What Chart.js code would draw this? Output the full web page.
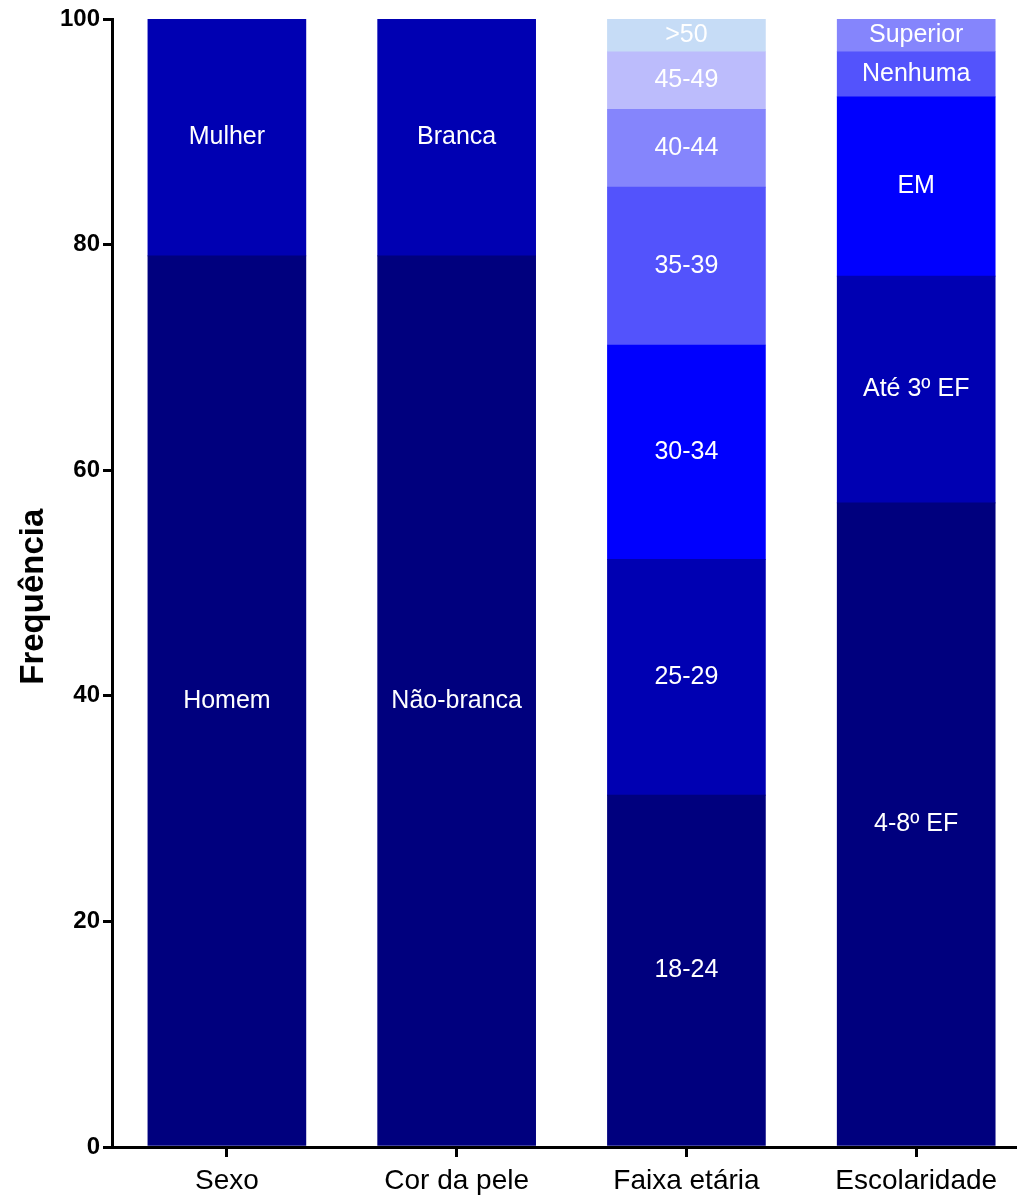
<!DOCTYPE html>
<html>
<head>
<meta charset="utf-8">
<script src="https://cdn.jsdelivr.net/npm/chart.js@4"></script>
<style>
  html, body { margin: 0; padding: 0; background: #fff; }
  #wrap { width: 1021px; height: 1200px; }
</style>
</head>
<body>
<div id="wrap"><canvas id="c" width="1021" height="1200"></canvas></div>
<script>
const categories = ['Sexo', 'Cor da pele', 'Faixa etária', 'Escolaridade'];
const yTicks = [0, 20, 40, 60, 80, 100];

const sexoValues = [79, 21];
const sexoLabels = ['Homem', 'Mulher'];
const corValues = [79, 21];
const corLabels = ['Não-branca', 'Branca'];
const faixaValues = [31.2, 20.9, 19.0, 14.0, 6.9, 5.1, 2.9];
const faixaLabels = ['18-24', '25-29', '30-34', '35-39', '40-44', '45-49', '>50'];
const escolValues = [57.1, 20.1, 15.9, 4.0, 2.9];
const escolLabels = ['4-8º EF', 'Até 3º EF', 'EM', 'Nenhuma', 'Superior'];

const palette = ['#00007e', '#0000b2', '#0000fe', '#5353fc', '#8585fc', '#bcbcfc', '#c6dcf6'];

const seriesValues = [sexoValues, corValues, faixaValues, escolValues];
const seriesLabels = [sexoLabels, corLabels, faixaLabels, escolLabels];
const maxLevels = Math.max(...seriesValues.map(v => v.length));

const datasets = [];
for (let k = 0; k < maxLevels; k++) {
  const data = [];
  const labels = [];
  seriesValues.forEach((vals, ci) => {
    if (k < vals.length) {
      data.push({ x: ci, y: vals[k] });
      labels.push(seriesLabels[ci][k]);
    }
  });
  datasets.push({
    data: data,
    segLabels: labels,
    backgroundColor: palette[k],
    borderWidth: 0,
    barThickness: 158,
    stack: 's'
  });
}

const segLabelPlugin = {
  id: 'segLabels',
  afterDatasetsDraw(chart) {
    const ctx = chart.ctx;
    ctx.save();
    ctx.fillStyle = '#ffffff';
    ctx.font = '25px "Liberation Sans", Arial, sans-serif';
    ctx.textAlign = 'center';
    ctx.textBaseline = 'middle';
    chart.data.datasets.forEach((ds, di) => {
      const meta = chart.getDatasetMeta(di);
      meta.data.forEach((el, i) => {
        const t = ds.segLabels[i];
        if (!t) return;
        const p = el.getProps(['x', 'y', 'base'], true);
        ctx.fillText(t, p.x, (p.y + p.base) / 2);
      });
    });
    ctx.restore();
  }
};

new Chart(document.getElementById('c'), {
  type: 'bar',
  data: { datasets: datasets },
  plugins: [segLabelPlugin],
  options: {
    responsive: false,
    animation: false,
    parsing: { xAxisKey: 'x', yAxisKey: 'y' },
    layout: { padding: { top: 19, right: 6, left: 0, bottom: 0 } },
    plugins: { legend: { display: false }, tooltip: { enabled: false } },
    scales: {
      x: {
        type: 'linear',
        stacked: true,
        offset: false,
        min: -0.5,
        max: 3.43,
        afterBuildTicks(scale) {
          scale.ticks = categories.map((c, i) => ({ value: i }));
        },
        afterFit(scale) { scale.height = 53; },
        ticks: {
          callback: (v) => categories[v],
          color: '#000',
          font: { family: '"Liberation Sans", Arial, sans-serif', size: 28 },
          padding: 7,
          maxRotation: 0,
          autoSkip: false
        },
        grid: {
          display: true,
          offset: false,
          drawOnChartArea: false,
          drawTicks: true,
          tickLength: 10,
          color: '#000',
          lineWidth: 3
        },
        border: { display: true, color: '#000', width: 3 }
      },
      y: {
        stacked: true,
        min: 0,
        max: 100,
        afterBuildTicks(scale) {
          scale.ticks = yTicks.map(v => ({ value: v }));
        },
        afterFit(scale) { scale.width = 112; },
        ticks: {
          color: '#000',
          font: { family: '"Liberation Sans", Arial, sans-serif', size: 24, weight: 'bold' },
          padding: 3
        },
        grid: {
          display: true,
          drawOnChartArea: false,
          drawTicks: true,
          tickLength: 9,
          color: '#000',
          lineWidth: 3
        },
        border: { display: true, color: '#000', width: 3 },
        title: {
          display: true,
          text: 'Frequência   ',
          color: '#000',
          font: { family: '"Liberation Sans", Arial, sans-serif', size: 33, weight: 'bold' },
          padding: { top: 14, bottom: 0 }
        }
      }
    }
  }
});
</script>
</body>
</html>
